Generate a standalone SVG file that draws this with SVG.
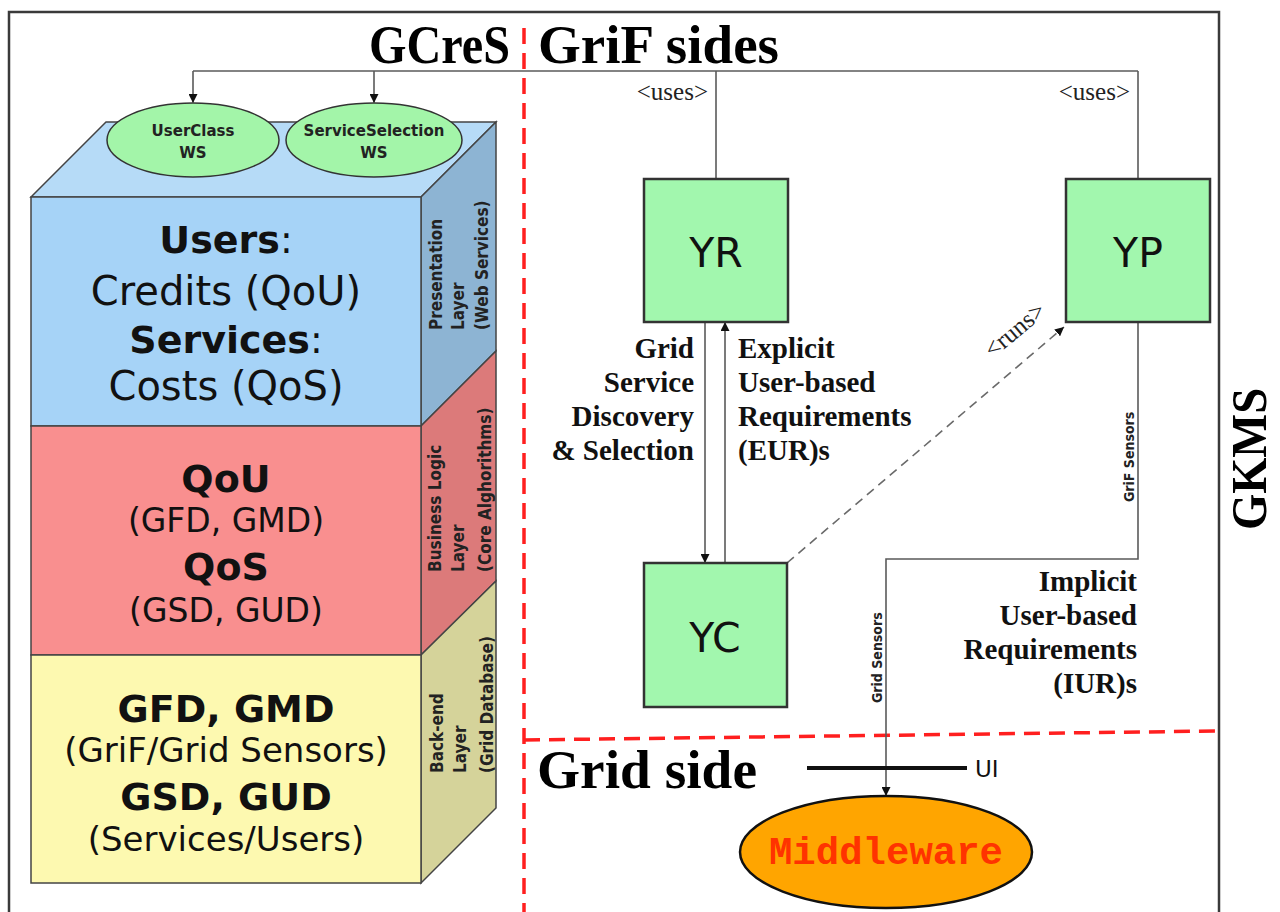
<svg xmlns="http://www.w3.org/2000/svg" width="1280" height="912" viewBox="0 0 1280 912">
<style>
.frame{fill:none;stroke:#3a3a3a;stroke-width:2.5}
.red{fill:none;stroke:#ff1f1f;stroke-width:3.5;stroke-dasharray:16 9}
.edge{stroke:#444;stroke-width:1.5}
.conn{fill:none;stroke:#5a5a5a;stroke-width:1.6}
.dash{fill:none;stroke:#6a6a6a;stroke-width:1.6;stroke-dasharray:9 6}
.title{font-family:"Liberation Serif","DejaVu Serif",serif;font-weight:bold;fill:#000}
.lbl{font-family:"Liberation Serif","DejaVu Serif",serif;font-weight:bold;font-size:29px;fill:#111}
.face{font-family:"DejaVu Sans","Verdana",sans-serif;fill:#111;text-anchor:middle}
.side{font-family:"DejaVu Sans Condensed","DejaVu Sans",sans-serif;font-stretch:condensed;font-weight:bold;font-size:17px;fill:#222}
.sens{font-family:"DejaVu Sans Condensed","DejaVu Sans",sans-serif;font-stretch:condensed;font-weight:bold;font-size:14px;fill:#222}
.box{fill:#a2f7ae;stroke:#333;stroke-width:2.5}
.boxt{font-family:"DejaVu Sans",sans-serif;font-size:41px;fill:#111;text-anchor:middle}
.ws{fill:#a3f5a9;stroke:#333;stroke-width:1.5}
.wst{font-family:"DejaVu Sans",sans-serif;font-weight:bold;font-size:15px;fill:#222;text-anchor:middle}
.uses{font-family:"Liberation Serif","DejaVu Serif",serif;font-size:25px;fill:#222}
</style>
<defs>
<marker id="ah" viewBox="0 0 10 10" refX="10" refY="5" markerWidth="9" markerHeight="9" markerUnits="userSpaceOnUse" orient="auto">
<path d="M0,0 L10,5 L0,10 z" fill="#111"/>
</marker>
</defs>
<rect width="1280" height="912" fill="#fff"/>
<rect class="frame" x="9" y="12" width="1210" height="930"/>
<g id="dividers">
<line class="red" x1="524" y1="28" x2="524" y2="912"/>
<path class="red" d="M524,740 L1217,731"/>
</g>
<g id="titles">
<text class="title" x="369" y="63" font-size="54" textLength="141" lengthAdjust="spacingAndGlyphs">GCreS</text>
<text class="title" x="538" y="63" font-size="54" textLength="241" lengthAdjust="spacingAndGlyphs">GriF sides</text>
<text class="title" x="537" y="788" font-size="54" textLength="220" lengthAdjust="spacingAndGlyphs">Grid side</text>
<text class="title" transform="translate(1266,530) rotate(-90)" font-size="50" textLength="142" lengthAdjust="spacingAndGlyphs">GKMS</text>
</g>
<g id="cube">
<polygon class="edge" fill="#b6dbf7" points="31,197 106,122 496,122 421,197"/>
<polygon class="edge" fill="#8db4d3" points="421,197 496,122 496,351 421,426"/>
<polygon class="edge" fill="#dc7a7a" points="421,426 496,351 496,581 421,655"/>
<polygon class="edge" fill="#d5d39a" points="421,655 496,581 496,808 421,883"/>
<rect class="edge" fill="#a6d3f7" x="31" y="197" width="390" height="229"/>
<rect class="edge" fill="#f98f8f" x="31" y="426" width="390" height="229"/>
<rect class="edge" fill="#fdf9b0" x="31" y="655" width="390" height="228"/>
<text class="face" x="226" y="253" font-size="38"><tspan font-weight="bold">Users</tspan>:</text>
<text class="face" x="226" y="305" font-size="40">Credits (QoU)</text>
<text class="face" x="226" y="353" font-size="38"><tspan font-weight="bold">Services</tspan>:</text>
<text class="face" x="226" y="400" font-size="40">Costs (QoS)</text>
<text class="face" x="226" y="492" font-size="38" font-weight="bold">QoU</text>
<text class="face" x="226" y="532" font-size="33">(GFD, GMD)</text>
<text class="face" x="226" y="580" font-size="38" font-weight="bold">QoS</text>
<text class="face" x="226" y="622" font-size="33">(GSD, GUD)</text>
<text class="face" x="226" y="722" font-size="38" font-weight="bold">GFD, GMD</text>
<text class="face" x="226" y="762" font-size="34">(GriF/Grid Sensors)</text>
<text class="face" x="226" y="810" font-size="38" font-weight="bold">GSD, GUD</text>
<text class="face" x="226" y="851" font-size="34">(Services/Users)</text>
<text class="side" transform="translate(442,330) rotate(-90)">Presentation</text>
<text class="side" transform="translate(464,330) rotate(-90)">Layer</text>
<text class="side" transform="translate(488,330) rotate(-90)">(Web Services)</text>
<text class="side" transform="translate(441,572) rotate(-90)">Business Logic</text>
<text class="side" transform="translate(464,572) rotate(-90)">Layer</text>
<text class="side" transform="translate(491,572) rotate(-90)">(Core Alghorithms)</text>
<text class="side" transform="translate(443,773) rotate(-90)">Back-end</text>
<text class="side" transform="translate(466,773) rotate(-90)">Layer</text>
<text class="side" transform="translate(493,773) rotate(-90)">(Grid Database)</text>
</g>
<g id="userclass-ws">
<ellipse class="ws" cx="193" cy="140" rx="86" ry="37"/>
<text class="wst" x="193" y="136">UserClass</text>
<text class="wst" x="193" y="158">WS</text>
</g>
<g id="serviceselection-ws">
<ellipse class="ws" cx="374" cy="140" rx="88" ry="37"/>
<text class="wst" x="374" y="136">ServiceSelection</text>
<text class="wst" x="374" y="158">WS</text>
</g>
<g id="connectors">
<path class="conn" d="M193,71 H1138"/>
<path class="conn" d="M193,71 V103" marker-end="url(#ah)"/>
<path class="conn" d="M374,71 V103" marker-end="url(#ah)"/>
<path class="conn" d="M716,71 V179"/>
<path class="conn" d="M1138,71 V179"/>
<path class="conn" d="M705,322 V563" marker-end="url(#ah)"/>
<path class="conn" d="M725,563 V322" marker-end="url(#ah)"/>
<path class="dash" d="M787,563 L1064,327" marker-end="url(#ah)"/>
<path class="conn" d="M1138,322 V559 H886 V796" marker-end="url(#ah)"/>
<line x1="807" y1="768" x2="967" y2="768" stroke="#111" stroke-width="4"/>
<text class="uses" x="708" y="100" text-anchor="end">&lt;uses&gt;</text>
<text class="uses" x="1130" y="100" text-anchor="end">&lt;uses&gt;</text>
<text class="uses" transform="translate(1020,336) rotate(-40)" text-anchor="middle" font-size="23">&lt;runs&gt;</text>
<text class="lbl" text-anchor="end"><tspan x="694" y="358">Grid</tspan><tspan x="694" y="392">Service</tspan><tspan x="694" y="426">Discovery</tspan><tspan x="694" y="460">&amp; Selection</tspan></text>
<text class="lbl"><tspan x="738" y="358">Explicit</tspan><tspan x="738" y="392">User-based</tspan><tspan x="738" y="426">Requirements</tspan><tspan x="738" y="460">(EUR)s</tspan></text>
<text class="lbl" text-anchor="end"><tspan x="1137" y="591">Implicit</tspan><tspan x="1137" y="625">User-based</tspan><tspan x="1137" y="659">Requirements</tspan><tspan x="1137" y="693">(IUR)s</tspan></text>
<text class="sens" transform="translate(1134,502) rotate(-90)">GriF Sensors</text>
<text class="sens" transform="translate(882,703) rotate(-90)">Grid Sensors</text>
<text x="975" y="777" font-family="DejaVu Sans,sans-serif" font-size="23" fill="#111">UI</text>
</g>
<g id="yr">
<rect class="box" x="644" y="179" width="144" height="143"/>
<text class="boxt" x="716" y="267">YR</text>
</g>
<g id="yp">
<rect class="box" x="1066" y="179" width="144" height="143"/>
<text class="boxt" x="1138" y="267">YP</text>
</g>
<g id="yc">
<rect class="box" x="644" y="563" width="143" height="144"/>
<text class="boxt" x="715" y="652">YC</text>
</g>
<g id="middleware">
<ellipse cx="886" cy="852" rx="146" ry="56" fill="#ffa500" stroke="#111" stroke-width="2.5"/>
<text x="886" y="864" text-anchor="middle" font-family="Liberation Mono,Courier New,monospace" font-weight="bold" font-size="39" fill="#ff3300">Middleware</text>
</g>
</svg>
